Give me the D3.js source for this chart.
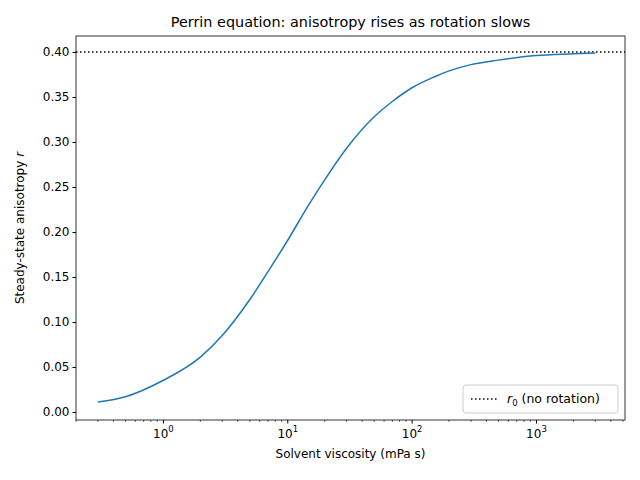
<!DOCTYPE html>
<html><head><meta charset="utf-8">
<script src="https://cdn.jsdelivr.net/npm/d3@7"></script>
<style>body{margin:0;background:#fff}text{font-family:"DejaVu Sans",sans-serif}</style>
</head><body>
<script>
// viscosity (mPa s) and anisotropy
const viscosity = [0.3, 0.5, 1, 2, 3, 5, 7, 10, 15, 20, 30, 50, 70, 100, 150, 200, 300, 500, 1000, 2000, 3000];
const anisotropy = [0.011, 0.017, 0.035, 0.061, 0.085, 0.125, 0.156, 0.190, 0.231, 0.258, 0.293, 0.328, 0.345, 0.360, 0.372, 0.379, 0.386, 0.391, 0.396, 0.398, 0.399];
const r0 = 0.40;
const yTicks = [0, 0.05, 0.10, 0.15, 0.20, 0.25, 0.30, 0.35, 0.40];
const xTicks = [1, 10, 100, 1000];
const xTickLabels = ["0", "1", "2", "3"];

const W = 640, H = 480;
const m = { l: 76, r: 15, t: 36, b: 60 };
const svg = d3.select("body").append("svg").attr("width", W).attr("height", H);

const x = d3.scaleLog().domain([0.2, 5200]).range([m.l, W - m.r]);
const y = d3.scaleLinear().domain([-0.0089, 0.4178]).range([H - m.b, m.t]);

// minor ticks
const minor = [];
for (let e = -1; e <= 3; e++) for (let k = 2; k <= 9; k++) {
  const v = k * Math.pow(10, e);
  if (v >= 0.2 && v <= 5200) minor.push(v);
}
svg.append("g").selectAll("line").data(minor).join("line")
  .attr("x1", d => x(d)).attr("x2", d => x(d))
  .attr("y1", H - m.b).attr("y2", H - m.b + 2).attr("stroke", "#000").attr("stroke-width", 0.6);

const gx = svg.append("g").attr("transform", `translate(0,${H - m.b})`)
  .call(d3.axisBottom(x).tickValues(xTicks).tickSize(3.5).tickFormat(() => ""));
gx.select(".domain").remove();
gx.selectAll(".tick").each(function (d, i) {
  const t = d3.select(this).append("text").attr("y", 18).attr("fill", "#000")
    .attr("text-anchor", "middle").attr("font-size", 12);
  t.append("tspan").text("10");
  t.append("tspan").attr("dy", -6).attr("font-size", 8.5).text(xTickLabels[i]);
});

const gy = svg.append("g").attr("transform", `translate(${m.l},0)`)
  .call(d3.axisLeft(y).tickValues(yTicks).tickSize(3.5).tickFormat(d3.format(".2f")));
gy.select(".domain").remove();
gy.selectAll("text").attr("font-size", 12).attr("fill", "#000");

svg.append("rect").attr("x", m.l).attr("y", m.t).attr("width", W - m.l - m.r)
  .attr("height", H - m.t - m.b).attr("fill", "none").attr("stroke", "#000").attr("stroke-width", 0.8);

svg.append("line").attr("x1", m.l).attr("x2", W - m.r).attr("y1", y(r0)).attr("y2", y(r0))
  .attr("stroke", "#000").attr("stroke-width", 1.5).attr("stroke-dasharray", "1.5,2.5");

svg.append("path").datum(d3.zip(viscosity, anisotropy))
  .attr("d", d3.line().x(d => x(d[0])).y(d => y(d[1])).curve(d3.curveMonotoneX))
  .attr("fill", "none").attr("stroke", "#1f77b4").attr("stroke-width", 1.5);

svg.append("text").attr("x", (m.l + W - m.r) / 2).attr("y", 27).attr("text-anchor", "middle")
  .attr("font-size", 14.4).text("Perrin equation: anisotropy rises as rotation slows");
svg.append("text").attr("x", (m.l + W - m.r) / 2).attr("y", 458).attr("text-anchor", "middle")
  .attr("font-size", 12).text("Solvent viscosity (mPa s)");
const yl = svg.append("text").attr("transform", `translate(24,${(m.t + H - m.b) / 2}) rotate(-90)`)
  .attr("text-anchor", "middle").attr("font-size", 12);
yl.append("tspan").text("Steady-state anisotropy ");
yl.append("tspan").attr("font-style", "italic").text("r");

const lg = svg.append("g").attr("transform", "translate(463,385)");
lg.append("rect").attr("width", 155).attr("height", 28).attr("rx", 3).attr("fill", "#fff")
  .attr("stroke", "#ccc");
lg.append("line").attr("x1", 8).attr("x2", 36).attr("y1", 14).attr("y2", 14)
  .attr("stroke", "#000").attr("stroke-width", 1.5).attr("stroke-dasharray", "1.5,2.5");
const lt = lg.append("text").attr("x", 44).attr("y", 18).attr("font-size", 12.5);
lt.append("tspan").attr("font-style", "italic").text("r");
lt.append("tspan").attr("dy", 3).attr("font-size", 8.5).text("0");
lt.append("tspan").attr("dy", -3).text(" (no rotation)");
</script>
</body></html>
